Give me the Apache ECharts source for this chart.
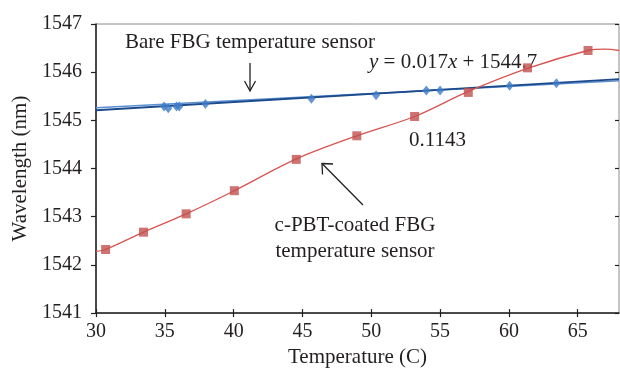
<!DOCTYPE html>
<html>
<head>
<meta charset="utf-8">
<script src="https://cdn.jsdelivr.net/npm/echarts@6.0.0/dist/echarts.min.js"></script>
<style>
  html, body { margin: 0; padding: 0; background: #fff; }
  #chart { width: 620px; height: 373px; }
</style>
</head>
<body>
<div id="chart"></div>
<script>
// x ticks / y ticks
var xTicks = [30, 35, 40, 45, 50, 55, 60, 65];
var yTicks = [1541, 1542, 1543, 1544, 1545, 1546, 1547];

// c-PBT-coated FBG sensor (red squares)
var coatedTemp = [30.7, 33.45, 36.55, 40.05, 44.55, 48.95, 53.15, 57.05, 61.35, 65.75];
var coatedWave = [1542.32, 1542.68, 1543.06, 1543.54, 1544.19, 1544.68, 1545.08, 1545.58, 1546.09, 1546.45];

// polynomial trend of coated sensor
var coatedTrendTemp = [30, 30.7, 33.45, 36.55, 40.05, 44.55, 48.95, 53.15, 57.05, 61.35, 65.75, 67, 68];
var coatedTrendWave = [1542.28, 1542.32, 1542.68, 1543.06, 1543.54, 1544.2, 1544.68, 1545.08, 1545.6, 1546.08, 1546.45, 1546.48, 1546.45];

// bare FBG sensor (blue diamonds)
var bareTemp = [34.95, 35.25, 35.85, 36.05, 37.95, 45.65, 50.35, 54.0, 55.0, 60.05, 63.45];
var bareWave = [1545.29, 1545.25, 1545.29, 1545.29, 1545.34, 1545.45, 1545.52, 1545.62, 1545.62, 1545.72, 1545.77];

// linear fit y = 0.017x + 1544.7 (ends) and lighter line
var bareFitTemp = [30, 68];
var bareFitWave = [1545.21, 1545.856];
var bareLineTemp = [30, 68];
var bareLineWave = [1545.26, 1545.82];

function pairs(xs, ys) {
  return xs.map(function (x, i) { return [x, ys[i]]; });
}

var font = 'Liberation Serif';
var chart = echarts.init(document.getElementById('chart'));

var axisCommon = {
  type: 'value',
  splitLine: { show: false }
};

chart.setOption({
  animation: false,
  textStyle: { fontFamily: font },
  grid: {
    left: 96, right: 1, top: 24, bottom: 58,
    show: true, borderColor: '#8a8a8a', borderWidth: 1
  },
  xAxis: [
    Object.assign({}, axisCommon, {
      min: 30, max: 68, interval: 5,
      position: 'bottom',
      name: 'Temperature (C)',
      nameLocation: 'middle',
      nameGap: 30,
      nameTextStyle: { fontFamily: font, fontSize: 21, color: '#231f20' },
      axisLine: { lineStyle: { color: '#231f20', width: 1.5 } },
      axisTick: { length: 4, lineStyle: { color: '#231f20', width: 1.2 }, customValues: xTicks },
      axisLabel: { fontFamily: font, fontSize: 20, color: '#231f20', margin: 9, customValues: xTicks }
    }),
    Object.assign({}, axisCommon, {
      min: 30, max: 68, interval: 5,
      position: 'bottom',
      axisLine: { show: false },
      axisTick: { inside: true, length: 4, lineStyle: { color: '#231f20', width: 1.2 }, customValues: xTicks },
      axisLabel: { show: false }
    })
  ],
  yAxis: [
    Object.assign({}, axisCommon, {
      min: 1541, max: 1547, interval: 1,
      name: 'Wavelength (nm)',
      nameLocation: 'middle',
      nameGap: 59,
      nameTextStyle: { fontFamily: font, fontSize: 21, color: '#231f20' },
      axisLine: { lineStyle: { color: '#231f20', width: 1.5 } },
      axisTick: { length: 5, lineStyle: { color: '#231f20', width: 1.2 }, customValues: yTicks },
      axisLabel: {
        fontFamily: font, fontSize: 20, color: '#231f20', margin: 14, customValues: yTicks,
        formatter: function (v) { return String(v); }
      }
    }),
    Object.assign({}, axisCommon, {
      min: 1541, max: 1547, interval: 1,
      axisLine: { show: false },
      axisTick: { inside: true, length: 4, lineStyle: { color: '#231f20', width: 1.2 }, customValues: yTicks },
      axisLabel: { show: false }
    })
  ],
  series: [
    {
      name: 'bare line',
      type: 'line',
      data: pairs(bareLineTemp, bareLineWave),
      symbol: 'none',
      lineStyle: { color: '#5a8fd2', width: 1.5 },
      z: 2
    },
    {
      name: 'bare fit',
      type: 'line',
      data: pairs(bareFitTemp, bareFitWave),
      symbol: 'none',
      lineStyle: { color: '#1c4a8a', width: 1.8 },
      z: 3
    },
    {
      name: 'bare',
      type: 'scatter',
      data: pairs(bareTemp, bareWave),
      symbol: 'diamond',
      symbolSize: [8, 10],
      itemStyle: { color: '#3f7cc8' },
      z: 4
    },
    {
      name: 'coated trend',
      type: 'line',
      data: pairs(coatedTrendTemp, coatedTrendWave),
      smooth: 0.3,
      symbol: 'none',
      lineStyle: { color: '#d9534f', width: 1.3 },
      z: 3
    },
    {
      name: 'coated',
      type: 'scatter',
      data: pairs(coatedTemp, coatedWave),
      symbol: 'rect',
      symbolSize: 9,
      itemStyle: { color: '#c0504d' },
      z: 4
    }
  ],
  graphic: [
    { type: 'text', x: 250, y: 42, style: { text: 'Bare FBG temperature sensor', font: '21px "Liberation Serif"', fill: '#231f20', align: 'center', verticalAlign: 'middle' } },
    { type: 'polyline', shape: { points: [[250, 63], [250, 91]] }, style: { stroke: '#231f20', lineWidth: 1.3, fill: null } },
    { type: 'polyline', shape: { points: [[244.5, 81], [250, 91], [255.5, 81]] }, style: { stroke: '#231f20', lineWidth: 1.3, fill: null } },
    {
      type: 'text', x: 369, y: 62,
      style: {
        text: '{i|y} = 0.017{i|x} + 1544.7',
        font: '21px "Liberation Serif"', fill: '#231f20', align: 'left', verticalAlign: 'middle',
        rich: { i: { fontStyle: 'italic', fontFamily: font, fontSize: 21, fill: '#231f20' } }
      }
    },
    { type: 'text', x: 409, y: 140, style: { text: '0.1143', font: '21px "Liberation Serif"', fill: '#231f20', align: 'left', verticalAlign: 'middle' } },
    { type: 'polyline', shape: { points: [[363, 205], [322, 163.5]] }, style: { stroke: '#231f20', lineWidth: 1.3, fill: null } },
    { type: 'polyline', shape: { points: [[322.5, 174.5], [322, 163.5], [333, 164]] }, style: { stroke: '#231f20', lineWidth: 1.3, fill: null } },
    { type: 'text', x: 355, y: 225, style: { text: 'c-PBT-coated FBG', font: '21px "Liberation Serif"', fill: '#231f20', align: 'center', verticalAlign: 'middle' } },
    { type: 'text', x: 355, y: 251, style: { text: 'temperature sensor', font: '21px "Liberation Serif"', fill: '#231f20', align: 'center', verticalAlign: 'middle' } }
  ]
});
</script>
</body>
</html>
